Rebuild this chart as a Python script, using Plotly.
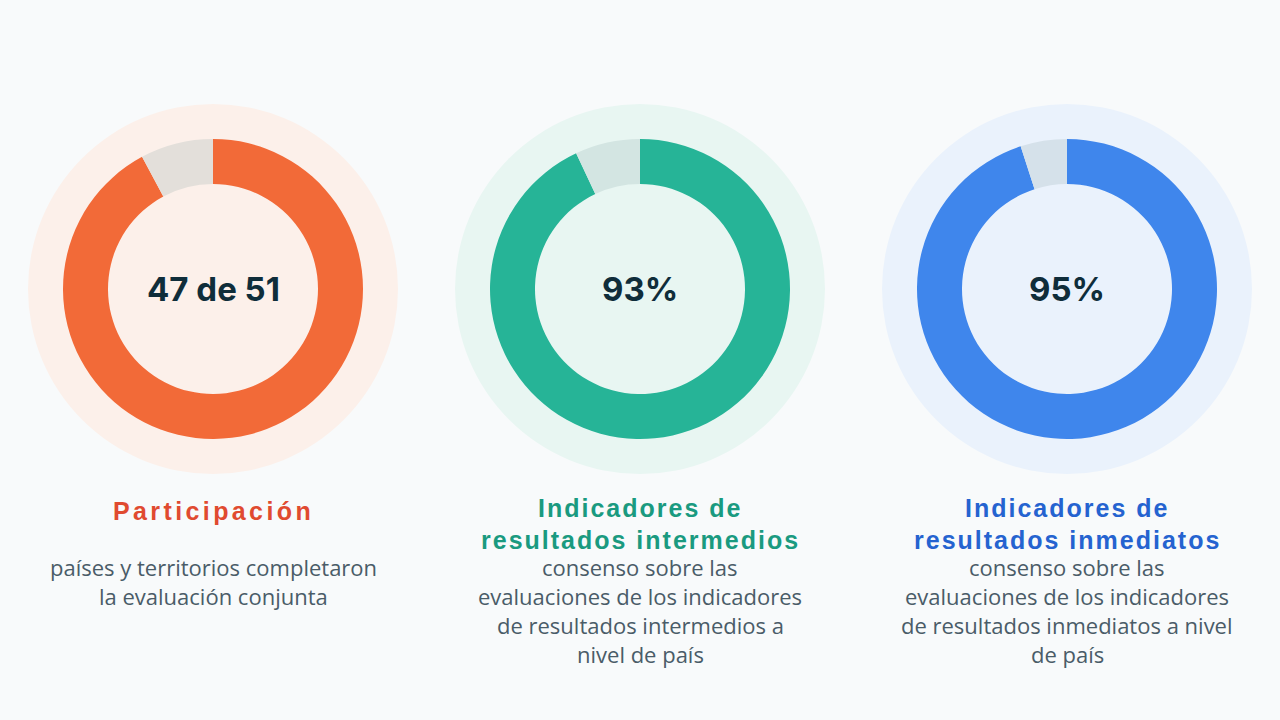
import json
import plotly.graph_objects as go

# Data
labels = ["Participación", "Indicadores de resultados intermedios", "Indicadores de resultados inmediatos"]
achieved = [47, 93, 95]
remaining = [4, 7, 5]
center_labels = ["47 de 51", "93%", "95%"]
title_lines = [["Participación"], ["Indicadores de", "resultados intermedios"], ["Indicadores de", "resultados inmediatos"]]
desc_lines = [
    ["países y territorios completaron", "la evaluación conjunta"],
    ["consenso sobre las", "evaluaciones de los indicadores", "de resultados intermedios a", "nivel de país"],
    ["consenso sobre las", "evaluaciones de los indicadores", "de resultados inmediatos a nivel", "de país"],
]

# Styles
W, H = 1280, 720
BG = "#f8fafb"
centers_x = [213, 640, 1067]
center_y = 289
ring_r = 150
bg_r = 185
main_colors = ["#f26a38", "#26b497", "#3f86ec"]
rest_colors = ["#e3dfda", "#d3e5e2", "#d5e1ea"]
bg_colors = ["#fcf0ea", "#e8f6f2", "#eaf2fc"]
title_colors = ["#e04a30", "#1a9a80", "#2563d0"]
title_spacing = [3.4, 2.0, 2.0]
desc_color = "#4a5c68"
num_color = "#0f2d3a"

fig = go.Figure()
shapes = []
annotations = []
spacing_map = {}

def px_x(x):
    return x / W

def px_y(y):
    return 1 - y / H

for i in range(3):
    cx = centers_x[i]
    shapes.append(dict(type="circle", xref="paper", yref="paper",
                       x0=px_x(cx - bg_r), x1=px_x(cx + bg_r),
                       y0=px_y(center_y + bg_r), y1=px_y(center_y - bg_r),
                       fillcolor=bg_colors[i], line=dict(width=0), layer="below"))
    fig.add_trace(go.Pie(
        values=[achieved[i], remaining[i]],
        labels=["logrado", "restante"],
        hole=0.7, sort=False, direction="clockwise", rotation=0,
        marker=dict(colors=[main_colors[i], rest_colors[i]], line=dict(width=0)),
        textinfo="none", hoverinfo="skip", showlegend=False,
        domain=dict(x=[px_x(cx - ring_r), px_x(cx + ring_r)],
                    y=[px_y(center_y + ring_r), px_y(center_y - ring_r)]),
    ))
    annotations.append(dict(text=f"<b>{center_labels[i]}</b>", x=px_x(cx), y=px_y(center_y),
                            xref="paper", yref="paper", showarrow=False,
                            xanchor="center", yanchor="middle",
                            font=dict(family="Inter", size=33, color=num_color)))
    tl = title_lines[i]
    ty = [511] if len(tl) == 1 else [508, 540]
    for t, y in zip(tl, ty):
        spacing_map[len(annotations)] = title_spacing[i]
        annotations.append(dict(text=f"<b>{t}</b>", x=px_x(cx), y=px_y(y),
                                xref="paper", yref="paper", showarrow=False,
                                xanchor="center", yanchor="middle", borderpad=0,
                                font=dict(family="Liberation Sans", size=25, color=title_colors[i])))
    for k, d in enumerate(desc_lines[i]):
        y = 567 + 29 * k
        annotations.append(dict(text=d, x=px_x(cx), y=px_y(y),
                                xref="paper", yref="paper", showarrow=False,
                                xanchor="center", yanchor="middle", borderpad=0,
                                font=dict(family="Open Sans", size=22, color=desc_color)))

fig.update_layout(width=W, height=H, margin=dict(l=0, r=0, t=0, b=0),
                  paper_bgcolor=BG, plot_bgcolor=BG,
                  shapes=shapes, annotations=annotations)

post = """
document.body.style.margin = '0';
document.body.style.background = '%s';
var sp = %s;
Object.keys(sp).forEach(function(k){
  var g = document.querySelector('g.annotation[data-index="' + k + '"] text.annotation-text');
  if (g) { g.setAttribute('letter-spacing', sp[k] + 'px'); g.style.letterSpacing = sp[k] + 'px'; }
});
""" % (BG, json.dumps({str(k): v for k, v in spacing_map.items()}))

fig.write_html("out.html", post_script=post, config={"displayModeBar": False})
